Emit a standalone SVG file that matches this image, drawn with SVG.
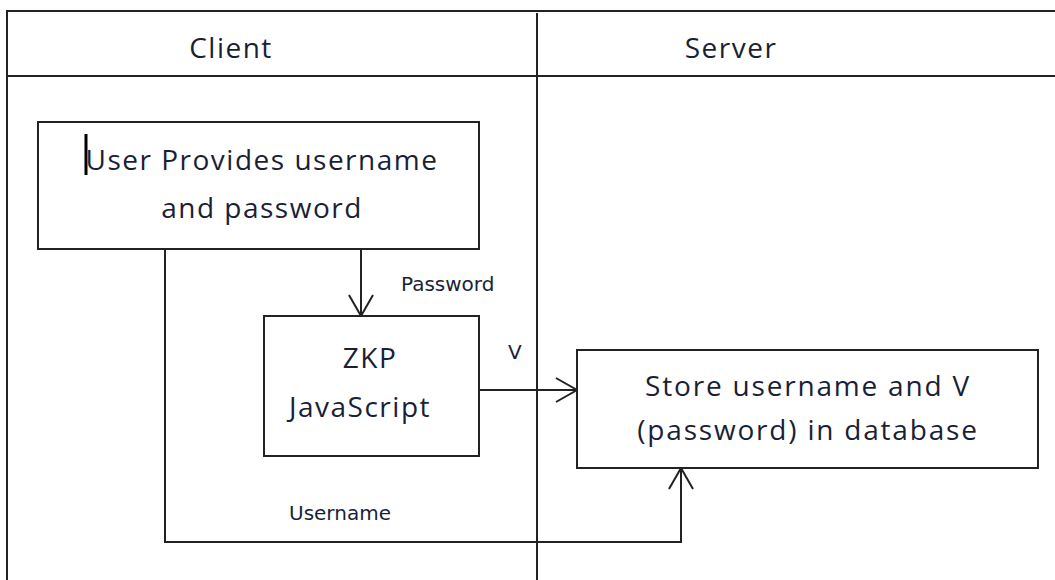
<svg xmlns="http://www.w3.org/2000/svg" width="1055" height="580" viewBox="0 0 1055 580">
<style>
.ln{fill:none;stroke:#222;stroke-width:2}
.box{fill:#fff;stroke:#222;stroke-width:2}
.t{font-family:"Open Sans","Noto Sans",sans-serif;font-size:28px;letter-spacing:1.5px;fill:#1a1f36;text-anchor:middle}
.s{font-family:"DejaVu Sans","Noto Sans",sans-serif;font-size:20px;fill:#1a1f36}
</style>
<defs>
<marker id="open" markerWidth="26" markerHeight="28" refX="22" refY="13" orient="auto" markerUnits="userSpaceOnUse">
<path d="M1,1 L22,13 L1,25" fill="none" stroke="#222" stroke-width="2"/>
</marker>
</defs>
<rect width="1055" height="580" fill="#fff"/>
<g id="lanes">
<path class="ln" d="M1056,11 H7 V581"/>
<line class="ln" x1="7" y1="76" x2="1056" y2="76"/>
<line class="ln" x1="537" y1="13" x2="537" y2="581"/>
<text class="t" x="231" y="58">Client</text>
<text class="t" x="731" y="58">Server</text>
</g>
<g id="connectors">
<line class="ln" x1="361" y1="249" x2="361" y2="316" marker-end="url(#open)"/>
<line class="ln" x1="479" y1="390" x2="577" y2="390" marker-end="url(#open)"/>
<path class="ln" d="M165,249 V542 H681 V468" marker-end="url(#open)"/>
<text class="s" x="401" y="291">Password</text>
<text class="s" x="508" y="359">V</text>
<text class="s" x="289" y="520">Username</text>
</g>
<g id="user">
<rect class="box" x="38" y="122" width="441" height="127"/>
<line x1="86" y1="134" x2="86" y2="175" stroke="#000" stroke-width="3"/>
<text class="t" x="262" y="170">User Provides username</text>
<text class="t" x="262" y="218">and password</text>
</g>
<g id="zkp">
<rect class="box" x="264" y="316" width="215" height="140"/>
<text class="t" x="370" y="368">ZKP</text>
<text class="t" x="360" y="417">JavaScript</text>
</g>
<g id="store">
<rect class="box" x="577" y="350" width="461" height="118"/>
<text class="t" x="808" y="396" style="letter-spacing:1.8px">Store username and V</text>
<text class="t" x="808" y="440" style="letter-spacing:1.8px">(password) in database</text>
</g>
</svg>
